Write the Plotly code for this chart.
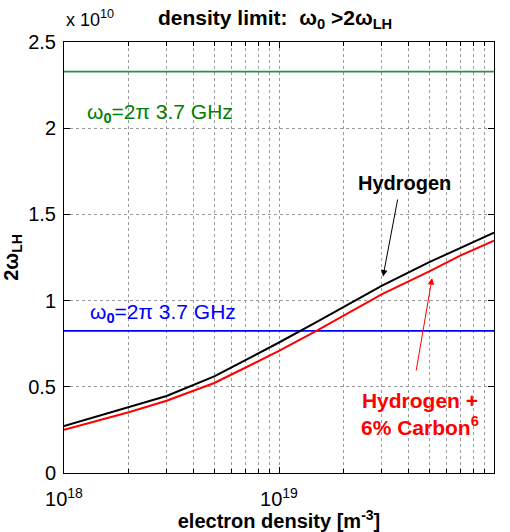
import plotly.graph_objects as go
import numpy as np

# electron density [m^-3]
density = [1e18, 2e18, 3e18, 5e18, 7e18, 1e19, 1.5e19, 2e19, 3e19, 5e19, 7e19, 1e20]
# 2*omega_LH in units of 1e10
hydrogen = [0.273, 0.381, 0.447, 0.560, 0.655, 0.757, 0.876, 0.962, 1.085, 1.223, 1.306, 1.394]
hydrogen_carbon = [0.250, 0.352, 0.419, 0.522, 0.612, 0.708, 0.826, 0.913, 1.036, 1.170, 1.262, 1.347]
# omega_0 levels (units of 1e10)
omega_green = 2.328
omega_blue = 0.824

x_ticks = [1e18, 1e19, 1e20]
x_ticktext = ["10<sup>18</sup>", "10<sup>19</sup>", "10<sup>20</sup>"]
y_ticks = [0, 0.5, 1, 1.5, 2, 2.5]
y_ticktext = ["0", "0.5", "1", "1.5", "2", "2.5"]

FONT = "Liberation Sans, Arial, sans-serif"

fig = go.Figure()
fig.add_trace(go.Scatter(x=[1e18, 1e20], y=[omega_green, omega_green], mode="lines",
                         line=dict(color="#2e8b57", width=1.8), showlegend=False))
fig.add_trace(go.Scatter(x=[1e18, 1e20], y=[omega_blue, omega_blue], mode="lines",
                         line=dict(color="#0000ff", width=1.8), showlegend=False))
fig.add_trace(go.Scatter(x=density, y=hydrogen_carbon, mode="lines",
                         line=dict(color="#ff0000", width=2), showlegend=False))
fig.add_trace(go.Scatter(x=density, y=hydrogen, mode="lines",
                         line=dict(color="#000000", width=2), showlegend=False))

GC = "#9a9a9a"

fig.update_xaxes(type="log", range=[18, 20], tickvals=x_ticks, ticktext=x_ticktext,
                 ticks="inside", ticklen=6, tickcolor="black", mirror="allticks",
                 showline=True, linecolor="black", linewidth=1, automargin=False,
                 showgrid=True, gridcolor=GC, griddash="dot", gridwidth=1,
                 minor=dict(ticks="inside", ticklen=4, tickcolor="black", showgrid=True,
                            gridcolor=GC, griddash="dot", gridwidth=1, dtick="D1"),
                 ticklabelstandoff=8,
                 tickfont=dict(family=FONT, size=20, color="black"),
                 title=dict(text="<b>electron density [m<sup>-3</sup>]</b>",
                            font=dict(family=FONT, size=20, color="black"), standoff=0),
                 zeroline=False)
fig.update_yaxes(range=[0, 2.5], tickvals=y_ticks, ticktext=y_ticktext,
                 ticks="inside", ticklen=6, tickcolor="black", mirror="allticks",
                 showline=True, linecolor="black", linewidth=1, automargin=False,
                 showgrid=True, gridcolor=GC, griddash="dot", gridwidth=1,
                 ticklabelstandoff=3,
                 tickfont=dict(family=FONT, size=20, color="black"),
                 title=dict(text="<b>2ω<sub>LH</sub></b>",
                            font=dict(family=FONT, size=20, color="black"), standoff=6),
                 zeroline=False)

ann = []
ann.append(dict(xref="paper", yref="paper", x=0.49, y=1.0, yshift=23, xanchor="center", yanchor="middle",
                text="<b>density limit:  ω<sub>0</sub> >2ω<sub>LH</sub></b>", showarrow=False,
                font=dict(family=FONT, size=21, color="black")))
ann.append(dict(xref="paper", yref="paper", x=0.0, y=1.0, yshift=10, xanchor="left", yanchor="bottom",
                text="x 10<sup>10</sup>", showarrow=False,
                font=dict(family=FONT, size=18, color="black")))
ann.append(dict(x=18.098, y=2.09, xanchor="left", yanchor="middle",
                text="ω<sub><b>0</b></sub>=2π 3.7 GHz", showarrow=False,
                font=dict(family=FONT, size=21, color="#008000")))
ann.append(dict(x=18.11, y=0.93, xanchor="left", yanchor="middle",
                text="ω<sub><b>0</b></sub>=2π 3.7 GHz", showarrow=False,
                font=dict(family=FONT, size=21, color="#0000ff")))
ann.append(dict(x=19.586, y=1.685, xanchor="center", yanchor="middle",
                text="<b>Hydrogen</b>", showarrow=False,
                font=dict(family=FONT, size=20, color="black")))
ann.append(dict(x=19.484, y=1.140, ax=19.553, ay=1.595, xref="x", yref="y", axref="x", ayref="y",
                text="", showarrow=True, arrowhead=2, arrowsize=1.3, arrowwidth=1, arrowcolor="black"))
ann.append(dict(x=19.656, y=0.34, xanchor="center", yanchor="middle",
                text="<b>Hydrogen +<br>6% Carbon<sup>6</sup></b>", showarrow=False,
                font=dict(family=FONT, size=21, color="#ff0000")))
ann.append(dict(x=19.712, y=1.131, ax=19.637, ay=0.586, xref="x", yref="y", axref="x", ayref="y",
                text="", showarrow=True, arrowhead=2, arrowsize=1.3, arrowwidth=1, arrowcolor="#ff0000"))

fig.update_layout(width=510, height=532, margin=dict(l=64, r=16, t=42, b=59),
                  plot_bgcolor="white", paper_bgcolor="white", annotations=ann,
                  showlegend=False)

fig.write_html("out.html")
